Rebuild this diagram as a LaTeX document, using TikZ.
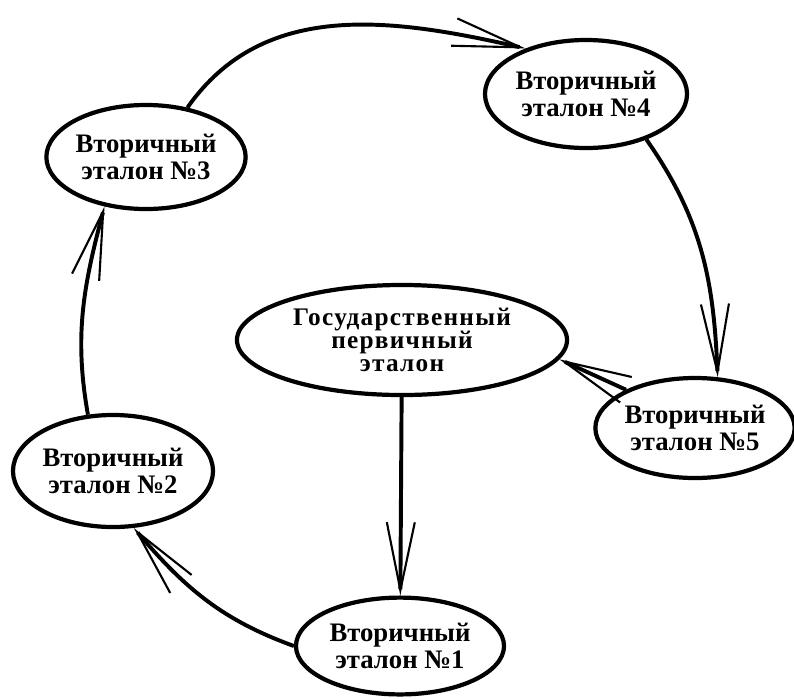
\documentclass[tikz,border=0pt]{standalone}
\usepackage{fontspec}
\setmainfont{Liberation Serif}
\newfontfamily\gosfont[LetterSpace=5]{Liberation Serif}
\usetikzlibrary{shapes.geometric,arrows.meta,bending}
\begin{document}
\begin{tikzpicture}[x=0.025cm, y=-0.025cm,
		etalon/.style={ellipse, draw, line width=3pt, inner sep=0pt, align=center,
			font=\bfseries\fontsize{19}{19}\selectfont},
		arr/.style={line width=2.8pt, -{Straight Barb[length=17mm, width=7mm, line width=1.5pt]}}]
		\useasboundingbox (0,0) rectangle (794,698);

		\node [etalon, minimum width=8.25cm, minimum height=2.75cm,
			font=\gosfont\bfseries\fontsize{18}{16.5}\selectfont] at (402,340) (gos) {Государственный\\первичный\\эталон};
		\node [etalon, minimum width=5.2cm, minimum height=2.42cm] at (400,646) (et1) {Вторичный\\эталон №1};
		\node [etalon, minimum width=5cm, minimum height=2.8cm] at (113,471) (et2) {Вторичный\\эталон №2};
		\node [etalon, minimum width=4.95cm, minimum height=2.6cm] at (146,157) (et3) {Вторичный\\эталон №3};
		\node [etalon, minimum width=5.05cm, minimum height=2.7cm] at (586,94) (et4) {Вторичный\\эталон №4};
		\node [etalon, minimum width=4.85cm, minimum height=2.5cm] at (695,428) (et5) {Вторичный\\эталон №5};

		\draw [arr] (gos) -- (et1);
		\draw [arr] (et1.west) to[out=160, in=-50] (et2.-70);
		\draw [arr] (et2.114) to[out=100, in=-105] (et3.-130);
		\draw [arr] (et3.50) to[out=55, in=167] (et4.143);
		\draw [arr] (et4.-37) to[out=-55, in=92] (et5.66);
		\draw [arr] (et5.151) -- (gos.-7);
	\end{tikzpicture}
\end{document}
